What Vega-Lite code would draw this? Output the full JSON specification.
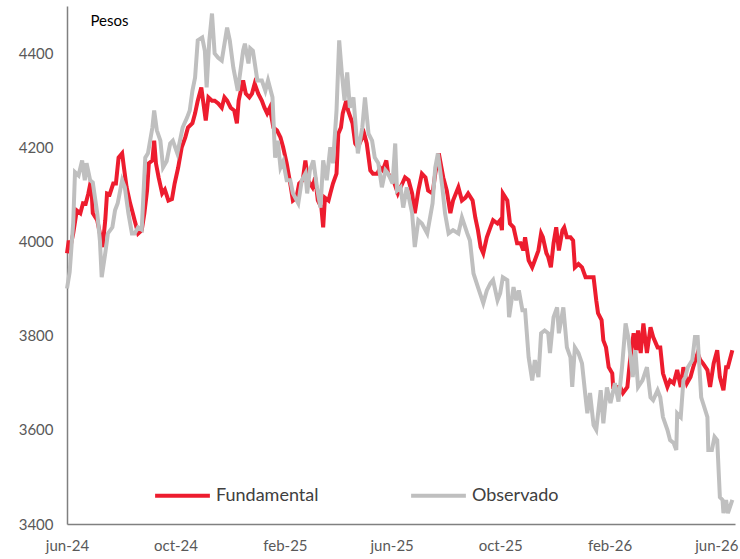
{
  "$schema": "https://vega.github.io/schema/vega-lite/v6.json",
  "width": 668,
  "height": 518,
  "autosize": "none",
  "padding": {"left": 67, "top": 6, "right": 5, "bottom": 35},
  "background": "white",
  "config": {
    "view": {"stroke": null},
    "font": "Lato"
  },
  "datasets": {
    "obs": [
      {"d":"2024-06-01","v":3900},{"d":"2024-06-04","v":3935},{"d":"2024-06-08","v":4040},{"d":"2024-06-10","v":4147},{"d":"2024-06-14","v":4140},{"d":"2024-06-18","v":4172},{"d":"2024-06-21","v":4130},{"d":"2024-06-23","v":4166},{"d":"2024-06-27","v":4130},{"d":"2024-06-30","v":4125},{"d":"2024-07-05","v":4060},{"d":"2024-07-08","v":4002},{"d":"2024-07-10","v":3924},{"d":"2024-07-14","v":3975},{"d":"2024-07-17","v":4017},{"d":"2024-07-22","v":4030},{"d":"2024-07-25","v":4066},{"d":"2024-07-28","v":4081},{"d":"2024-08-02","v":4130},{"d":"2024-08-05","v":4115},{"d":"2024-08-09","v":4060},{"d":"2024-08-13","v":4017},{"d":"2024-08-16","v":4017},{"d":"2024-08-20","v":4030},{"d":"2024-08-24","v":4025},{"d":"2024-08-28","v":4178},{"d":"2024-08-31","v":4187},{"d":"2024-09-05","v":4242},{"d":"2024-09-07","v":4278},{"d":"2024-09-10","v":4236},{"d":"2024-09-14","v":4214},{"d":"2024-09-17","v":4157},{"d":"2024-09-21","v":4170},{"d":"2024-09-25","v":4208},{"d":"2024-09-28","v":4214},{"d":"2024-10-03","v":4187},{"d":"2024-10-06","v":4214},{"d":"2024-10-09","v":4242},{"d":"2024-10-14","v":4263},{"d":"2024-10-17","v":4278},{"d":"2024-10-20","v":4320},{"d":"2024-10-23","v":4348},{"d":"2024-10-26","v":4427},{"d":"2024-10-31","v":4433},{"d":"2024-11-03","v":4405},{"d":"2024-11-05","v":4327},{"d":"2024-11-08","v":4427},{"d":"2024-11-11","v":4484},{"d":"2024-11-14","v":4399},{"d":"2024-11-18","v":4390},{"d":"2024-11-22","v":4384},{"d":"2024-11-28","v":4454},{"d":"2024-12-01","v":4427},{"d":"2024-12-05","v":4369},{"d":"2024-12-10","v":4320},{"d":"2024-12-16","v":4405},{"d":"2024-12-18","v":4420},{"d":"2024-12-22","v":4378},{"d":"2024-12-24","v":4410},{"d":"2024-12-27","v":4405},{"d":"2025-01-01","v":4342},{"d":"2025-01-06","v":4342},{"d":"2025-01-10","v":4320},{"d":"2025-01-13","v":4342},{"d":"2025-01-18","v":4306},{"d":"2025-01-21","v":4178},{"d":"2025-01-24","v":4214},{"d":"2025-01-27","v":4157},{"d":"2025-01-30","v":4170},{"d":"2025-02-03","v":4130},{"d":"2025-02-07","v":4130},{"d":"2025-02-10","v":4102},{"d":"2025-02-16","v":4081},{"d":"2025-02-20","v":4130},{"d":"2025-02-24","v":4144},{"d":"2025-02-26","v":4102},{"d":"2025-03-01","v":4151},{"d":"2025-03-05","v":4172},{"d":"2025-03-09","v":4115},{"d":"2025-03-13","v":4072},{"d":"2025-03-16","v":4172},{"d":"2025-03-20","v":4130},{"d":"2025-03-24","v":4200},{"d":"2025-03-27","v":4166},{"d":"2025-03-31","v":4278},{"d":"2025-04-03","v":4427},{"d":"2025-04-06","v":4357},{"d":"2025-04-09","v":4299},{"d":"2025-04-12","v":4359},{"d":"2025-04-15","v":4284},{"d":"2025-04-19","v":4306},{"d":"2025-04-24","v":4187},{"d":"2025-04-29","v":4242},{"d":"2025-05-02","v":4306},{"d":"2025-05-06","v":4229},{"d":"2025-05-10","v":4214},{"d":"2025-05-13","v":4178},{"d":"2025-05-17","v":4166},{"d":"2025-05-21","v":4115},{"d":"2025-05-25","v":4151},{"d":"2025-05-28","v":4144},{"d":"2025-06-02","v":4123},{"d":"2025-06-05","v":4208},{"d":"2025-06-07","v":4108},{"d":"2025-06-11","v":4115},{"d":"2025-06-14","v":4072},{"d":"2025-06-18","v":4115},{"d":"2025-06-24","v":4060},{"d":"2025-06-27","v":3988},{"d":"2025-07-01","v":4045},{"d":"2025-07-05","v":4038},{"d":"2025-07-11","v":4017},{"d":"2025-07-17","v":4081},{"d":"2025-07-20","v":4157},{"d":"2025-07-23","v":4187},{"d":"2025-07-28","v":4115},{"d":"2025-07-31","v":4060},{"d":"2025-08-04","v":4017},{"d":"2025-08-09","v":4024},{"d":"2025-08-15","v":4017},{"d":"2025-08-19","v":4051},{"d":"2025-08-25","v":4017},{"d":"2025-08-28","v":4002},{"d":"2025-09-01","v":3932},{"d":"2025-09-06","v":3903},{"d":"2025-09-12","v":3869},{"d":"2025-09-16","v":3896},{"d":"2025-09-20","v":3911},{"d":"2025-09-23","v":3918},{"d":"2025-09-28","v":3875},{"d":"2025-10-01","v":3890},{"d":"2025-10-04","v":3924},{"d":"2025-10-09","v":3918},{"d":"2025-10-11","v":3839},{"d":"2025-10-16","v":3903},{"d":"2025-10-19","v":3875},{"d":"2025-10-22","v":3896},{"d":"2025-10-26","v":3854},{"d":"2025-10-29","v":3854},{"d":"2025-11-02","v":3754},{"d":"2025-11-06","v":3705},{"d":"2025-11-09","v":3748},{"d":"2025-11-13","v":3712},{"d":"2025-11-16","v":3805},{"d":"2025-11-20","v":3811},{"d":"2025-11-24","v":3805},{"d":"2025-11-26","v":3763},{"d":"2025-11-30","v":3839},{"d":"2025-12-04","v":3860},{"d":"2025-12-06","v":3805},{"d":"2025-12-11","v":3860},{"d":"2025-12-15","v":3775},{"d":"2025-12-19","v":3754},{"d":"2025-12-21","v":3691},{"d":"2025-12-24","v":3775},{"d":"2025-12-28","v":3763},{"d":"2026-01-01","v":3741},{"d":"2026-01-05","v":3669},{"d":"2026-01-07","v":3635},{"d":"2026-01-10","v":3678},{"d":"2026-01-14","v":3610},{"d":"2026-01-17","v":3600},{"d":"2026-01-22","v":3684},{"d":"2026-01-25","v":3614},{"d":"2026-01-29","v":3690},{"d":"2026-02-02","v":3657},{"d":"2026-02-07","v":3699},{"d":"2026-02-11","v":3660},{"d":"2026-02-15","v":3733},{"d":"2026-02-19","v":3826},{"d":"2026-02-22","v":3797},{"d":"2026-02-27","v":3712},{"d":"2026-03-02","v":3769},{"d":"2026-03-05","v":3691},{"d":"2026-03-10","v":3705},{"d":"2026-03-15","v":3733},{"d":"2026-03-19","v":3669},{"d":"2026-03-22","v":3663},{"d":"2026-03-27","v":3684},{"d":"2026-03-30","v":3669},{"d":"2026-04-02","v":3627},{"d":"2026-04-07","v":3600},{"d":"2026-04-10","v":3578},{"d":"2026-04-14","v":3572},{"d":"2026-04-17","v":3557},{"d":"2026-04-18","v":3635},{"d":"2026-04-22","v":3627},{"d":"2026-04-25","v":3705},{"d":"2026-04-27","v":3712},{"d":"2026-04-30","v":3733},{"d":"2026-05-05","v":3748},{"d":"2026-05-08","v":3797},{"d":"2026-05-11","v":3797},{"d":"2026-05-13","v":3733},{"d":"2026-05-15","v":3669},{"d":"2026-05-17","v":3657},{"d":"2026-05-22","v":3627},{"d":"2026-05-23","v":3557},{"d":"2026-05-27","v":3557},{"d":"2026-05-30","v":3585},{"d":"2026-06-02","v":3578},{"d":"2026-06-05","v":3457},{"d":"2026-06-08","v":3451},{"d":"2026-06-09","v":3423},{"d":"2026-06-12","v":3451},{"d":"2026-06-14","v":3423},{"d":"2026-06-19","v":3451}
    ],
    "fund": [
      {"d":"2024-06-01","v":3975},{"d":"2024-06-03","v":4002},{"d":"2024-06-05","v":3990},{"d":"2024-06-08","v":4017},{"d":"2024-06-12","v":4066},{"d":"2024-06-16","v":4060},{"d":"2024-06-19","v":4081},{"d":"2024-06-22","v":4080},{"d":"2024-06-25","v":4102},{"d":"2024-06-28","v":4130},{"d":"2024-06-30","v":4060},{"d":"2024-07-05","v":4045},{"d":"2024-07-08","v":4017},{"d":"2024-07-11","v":3988},{"d":"2024-07-14","v":4045},{"d":"2024-07-16","v":4102},{"d":"2024-07-19","v":4100},{"d":"2024-07-23","v":4123},{"d":"2024-07-26","v":4123},{"d":"2024-07-29","v":4178},{"d":"2024-08-02","v":4187},{"d":"2024-08-04","v":4157},{"d":"2024-08-07","v":4115},{"d":"2024-08-11","v":4081},{"d":"2024-08-14","v":4060},{"d":"2024-08-16","v":4045},{"d":"2024-08-20","v":4017},{"d":"2024-08-24","v":4024},{"d":"2024-08-27","v":4060},{"d":"2024-08-30","v":4108},{"d":"2024-09-01","v":4166},{"d":"2024-09-05","v":4172},{"d":"2024-09-07","v":4214},{"d":"2024-09-09","v":4166},{"d":"2024-09-12","v":4136},{"d":"2024-09-16","v":4102},{"d":"2024-09-19","v":4110},{"d":"2024-09-23","v":4087},{"d":"2024-09-27","v":4090},{"d":"2024-09-30","v":4123},{"d":"2024-10-04","v":4157},{"d":"2024-10-08","v":4200},{"d":"2024-10-12","v":4221},{"d":"2024-10-15","v":4242},{"d":"2024-10-20","v":4251},{"d":"2024-10-23","v":4272},{"d":"2024-10-26","v":4299},{"d":"2024-10-30","v":4327},{"d":"2024-11-01","v":4299},{"d":"2024-11-04","v":4257},{"d":"2024-11-07","v":4306},{"d":"2024-11-11","v":4299},{"d":"2024-11-14","v":4299},{"d":"2024-11-18","v":4293},{"d":"2024-11-22","v":4284},{"d":"2024-11-25","v":4306},{"d":"2024-11-28","v":4299},{"d":"2024-12-02","v":4284},{"d":"2024-12-06","v":4278},{"d":"2024-12-09","v":4251},{"d":"2024-12-11","v":4299},{"d":"2024-12-16","v":4342},{"d":"2024-12-19","v":4314},{"d":"2024-12-23","v":4306},{"d":"2024-12-26","v":4314},{"d":"2024-12-29","v":4335},{"d":"2025-01-02","v":4314},{"d":"2025-01-06","v":4299},{"d":"2025-01-09","v":4284},{"d":"2025-01-12","v":4272},{"d":"2025-01-15","v":4284},{"d":"2025-01-19","v":4242},{"d":"2025-01-23","v":4236},{"d":"2025-01-27","v":4221},{"d":"2025-01-30","v":4200},{"d":"2025-02-03","v":4166},{"d":"2025-02-07","v":4123},{"d":"2025-02-10","v":4087},{"d":"2025-02-14","v":4093},{"d":"2025-02-17","v":4123},{"d":"2025-02-21","v":4130},{"d":"2025-02-24","v":4172},{"d":"2025-02-27","v":4130},{"d":"2025-03-04","v":4115},{"d":"2025-03-07","v":4136},{"d":"2025-03-10","v":4087},{"d":"2025-03-14","v":4072},{"d":"2025-03-16","v":4030},{"d":"2025-03-18","v":4093},{"d":"2025-03-22","v":4087},{"d":"2025-03-24","v":4102},{"d":"2025-03-27","v":4123},{"d":"2025-03-31","v":4144},{"d":"2025-04-02","v":4229},{"d":"2025-04-05","v":4242},{"d":"2025-04-07","v":4272},{"d":"2025-04-11","v":4299},{"d":"2025-04-13","v":4278},{"d":"2025-04-18","v":4251},{"d":"2025-04-21","v":4208},{"d":"2025-04-24","v":4200},{"d":"2025-04-29","v":4221},{"d":"2025-05-01","v":4229},{"d":"2025-05-04","v":4208},{"d":"2025-05-08","v":4151},{"d":"2025-05-11","v":4144},{"d":"2025-05-16","v":4144},{"d":"2025-05-19","v":4157},{"d":"2025-05-22","v":4151},{"d":"2025-05-26","v":4172},{"d":"2025-05-28","v":4144},{"d":"2025-06-03","v":4130},{"d":"2025-06-08","v":4102},{"d":"2025-06-13","v":4123},{"d":"2025-06-16","v":4136},{"d":"2025-06-20","v":4130},{"d":"2025-06-24","v":4102},{"d":"2025-06-27","v":4060},{"d":"2025-07-01","v":4108},{"d":"2025-07-05","v":4144},{"d":"2025-07-09","v":4136},{"d":"2025-07-12","v":4108},{"d":"2025-07-17","v":4102},{"d":"2025-07-20","v":4144},{"d":"2025-07-24","v":4187},{"d":"2025-07-29","v":4136},{"d":"2025-08-02","v":4108},{"d":"2025-08-06","v":4060},{"d":"2025-08-09","v":4087},{"d":"2025-08-15","v":4115},{"d":"2025-08-19","v":4087},{"d":"2025-08-23","v":4093},{"d":"2025-08-26","v":4102},{"d":"2025-08-31","v":4087},{"d":"2025-09-03","v":4051},{"d":"2025-09-06","v":4024},{"d":"2025-09-09","v":3988},{"d":"2025-09-12","v":3975},{"d":"2025-09-16","v":4009},{"d":"2025-09-20","v":4030},{"d":"2025-09-23","v":4045},{"d":"2025-09-28","v":4038},{"d":"2025-10-01","v":4045},{"d":"2025-10-03","v":4024},{"d":"2025-10-04","v":4102},{"d":"2025-10-09","v":4087},{"d":"2025-10-12","v":4038},{"d":"2025-10-16","v":4030},{"d":"2025-10-20","v":3996},{"d":"2025-10-24","v":3996},{"d":"2025-10-27","v":3981},{"d":"2025-10-29","v":4009},{"d":"2025-11-02","v":3960},{"d":"2025-11-06","v":3945},{"d":"2025-11-09","v":3960},{"d":"2025-11-13","v":3981},{"d":"2025-11-16","v":4017},{"d":"2025-11-18","v":4009},{"d":"2025-11-22","v":3975},{"d":"2025-11-24","v":3967},{"d":"2025-11-27","v":3945},{"d":"2025-11-30","v":3996},{"d":"2025-12-03","v":4030},{"d":"2025-12-06","v":3981},{"d":"2025-12-10","v":4024},{"d":"2025-12-12","v":4030},{"d":"2025-12-15","v":4009},{"d":"2025-12-19","v":4009},{"d":"2025-12-22","v":4002},{"d":"2025-12-24","v":3945},{"d":"2025-12-28","v":3952},{"d":"2026-01-01","v":3945},{"d":"2026-01-05","v":3924},{"d":"2026-01-08","v":3924},{"d":"2026-01-14","v":3924},{"d":"2026-01-17","v":3875},{"d":"2026-01-19","v":3848},{"d":"2026-01-23","v":3833},{"d":"2026-01-25","v":3790},{"d":"2026-01-28","v":3775},{"d":"2026-01-31","v":3733},{"d":"2026-02-04","v":3720},{"d":"2026-02-05","v":3691},{"d":"2026-02-10","v":3691},{"d":"2026-02-13","v":3691},{"d":"2026-02-16","v":3678},{"d":"2026-02-21","v":3691},{"d":"2026-02-24","v":3748},{"d":"2026-02-28","v":3805},{"d":"2026-03-03","v":3769},{"d":"2026-03-05","v":3811},{"d":"2026-03-08","v":3763},{"d":"2026-03-11","v":3826},{"d":"2026-03-15","v":3763},{"d":"2026-03-19","v":3818},{"d":"2026-03-22","v":3797},{"d":"2026-03-27","v":3775},{"d":"2026-03-30","v":3775},{"d":"2026-04-02","v":3720},{"d":"2026-04-07","v":3691},{"d":"2026-04-10","v":3705},{"d":"2026-04-14","v":3699},{"d":"2026-04-18","v":3727},{"d":"2026-04-22","v":3691},{"d":"2026-04-25","v":3733},{"d":"2026-04-29","v":3699},{"d":"2026-05-03","v":3712},{"d":"2026-05-06","v":3733},{"d":"2026-05-11","v":3763},{"d":"2026-05-14","v":3748},{"d":"2026-05-17","v":3741},{"d":"2026-05-22","v":3727},{"d":"2026-05-25","v":3691},{"d":"2026-05-29","v":3741},{"d":"2026-06-02","v":3769},{"d":"2026-06-05","v":3712},{"d":"2026-06-09","v":3684},{"d":"2026-06-12","v":3733},{"d":"2026-06-14","v":3733},{"d":"2026-06-19","v":3769}
    ]
  },
  "encoding": {
    "x": {
      "field": "d",
      "type": "temporal",
      "scale": {"type": "utc", "domain": [{"year": 2024, "month": 6, "date": 1, "utc": true}, {"year": 2026, "month": 6, "date": 22, "utc": true}]},
      "axis": {
        "title": null,
        "values": [
          {"year": 2024, "month": 6, "date": 1, "utc": true},
          {"year": 2024, "month": 10, "date": 1, "utc": true},
          {"year": 2025, "month": 2, "date": 1, "utc": true},
          {"year": 2025, "month": 6, "date": 1, "utc": true},
          {"year": 2025, "month": 10, "date": 1, "utc": true},
          {"year": 2026, "month": 2, "date": 1, "utc": true},
          {"year": 2026, "month": 6, "date": 1, "utc": true}
        ],
        "labelExpr": "lower(utcFormat(datum.value, '%b-%y'))",
        "grid": false,
        "ticks": false,
        "domainColor": "#808080",
        "domainWidth": 1.5,
        "labelColor": "#595959",
        "labelFontSize": 15,
        "labelPadding": 14,
        "labelFlush": false,
        "labelOverlap": false
      }
    },
    "y": {
      "field": "v",
      "type": "quantitative",
      "scale": {"domain": [3400, 4500], "nice": false, "zero": false},
      "axis": {
        "values": [3400, 3600, 3800, 4000, 4200, 4400],
        "format": "d",
        "grid": false,
        "ticks": false,
        "domainColor": "#808080",
        "domainWidth": 1.5,
        "labelColor": "#595959",
        "labelFontSize": 15,
        "labelPadding": 14,
        "title": "Pesos",
        "titleAngle": 0,
        "titleX": 23,
        "titleY": 14,
        "titleAlign": "left",
        "titleBaseline": "middle",
        "titleFontWeight": "normal",
        "titleFontSize": 15,
        "titleColor": "#000000"
      }
    },
    "color": {
      "scale": {"domain": ["Fundamental", "Observado"], "range": ["#ED1C2E", "#BFBFBF"]},
      "legend": {
        "title": null,
        "orient": "none",
        "legendX": 86,
        "legendY": 460,
        "direction": "horizontal",
        "symbolType": "stroke",
        "symbolSize": 3000,
        "symbolStrokeWidth": 4,
        "labelFontSize": 18,
        "labelColor": "#404040",
        "labelOffset": 4,
        "columnPadding": 84
      }
    }
  },
  "layer": [
    {
      "data": {"name": "fund"},
      "mark": {"type": "line", "strokeWidth": 4, "interpolate": "linear"},
      "encoding": {"color": {"datum": "Fundamental"}}
    },
    {
      "data": {"name": "obs"},
      "mark": {"type": "line", "strokeWidth": 4, "interpolate": "linear"},
      "encoding": {"color": {"datum": "Observado"}}
    }
  ]
}
